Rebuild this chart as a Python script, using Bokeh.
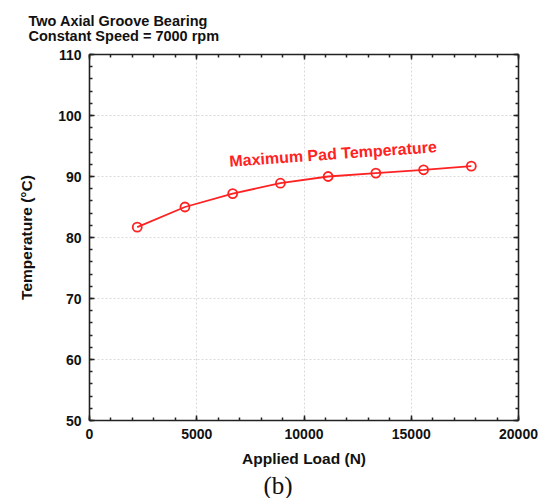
from bokeh.plotting import figure
from bokeh.models import Label, LinearAxis, Range1d, FixedTicker, Title
from bokeh.embed import file_html
from bokeh.resources import INLINE

title_lines = ["Two Axial Groove Bearing", "Constant Speed = 7000 rpm"]
x_label = "Applied Load (N)"
y_label = "Temperature (°C)"
series_name = "Maximum Pad Temperature"
caption = "(b)"

load = [2225, 4450, 6675, 8900, 11125, 13350, 15575, 17800]
temperature = [81.7, 85.0, 87.2, 88.9, 90.0, 90.55, 91.1, 91.7]

x_ticks = [0, 5000, 10000, 15000, 20000]
y_ticks = [50, 60, 70, 80, 90, 100, 110]

FONT = "Liberation Sans"
RED = "#ff2222"
AX = "#222222"

p = figure(width=548, height=498, output_backend="svg", toolbar_location=None,
           x_range=Range1d(0, 20000), y_range=Range1d(50, 110),
           min_border_left=89, min_border_right=30, min_border_top=53, min_border_bottom=77)
p.outline_line_color = None
p.background_fill_color = "white"
p.border_fill_color = "white"

def style_axis(ax, show_labels=True):
    ax.axis_line_color = AX
    ax.axis_line_width = 1.6
    ax.major_tick_line_color = AX
    ax.minor_tick_line_color = AX
    ax.major_tick_line_width = 1.5
    ax.minor_tick_line_width = 1.5
    ax.major_tick_in = 5
    ax.major_tick_out = 0
    ax.minor_tick_in = 3
    ax.minor_tick_out = 0
    ax.major_label_text_font = FONT
    ax.major_label_text_font_style = "bold"
    ax.major_label_text_font_size = "14px"
    ax.major_label_text_color = "#111111"
    ax.axis_label_text_font = FONT
    ax.axis_label_text_font_style = "bold"
    ax.axis_label_text_font_size = "15.5px"
    ax.axis_label_text_color = "#111111"
    if not show_labels:
        ax.major_label_standoff = 0

xt = FixedTicker(ticks=x_ticks, minor_ticks=list(range(0, 20001, 1000)))
yt = FixedTicker(ticks=y_ticks, minor_ticks=list(range(50, 111, 2)))

p.xaxis.ticker = xt
p.yaxis.ticker = yt
style_axis(p.xaxis[0])
style_axis(p.yaxis[0])
p.xaxis.axis_label = x_label
p.yaxis.axis_label = y_label
p.xaxis.major_label_standoff = 8
p.yaxis.major_label_standoff = 8
p.xaxis.axis_label_standoff = 8
p.yaxis.axis_label_standoff = 20

top_ax = LinearAxis(ticker=xt)
right_ax = LinearAxis(ticker=yt)
style_axis(top_ax, False)
style_axis(right_ax, False)
top_ax.major_label_overrides = {t: "" for t in x_ticks}
right_ax.major_label_overrides = {t: "" for t in y_ticks}
p.add_layout(top_ax, "above")
p.add_layout(right_ax, "right")

p.xgrid.ticker = xt
p.ygrid.ticker = yt
for g in (p.xgrid[0], p.ygrid[0]):
    g.grid_line_color = "#dadada"
    g.grid_line_dash = "2 2"
    g.grid_line_width = 1

p.line(load, temperature, line_color=RED, line_width=1.8)
p.scatter(load, temperature, size=9, fill_color=None, line_color=RED, line_width=1.8)

p.add_layout(Label(x=11355, y=93.7, text=series_name, text_color=RED,
                   text_font=FONT, text_font_style="bold", text_font_size="16px",
                   text_align="center", text_baseline="middle", angle=0.07))

p.title.text = "\n".join(title_lines)
p.title.align = "left"
p.title.offset = -61
p.title.text_font = FONT
p.title.text_font_style = "bold"
p.title.text_font_size = "14.5px"
p.title.text_color = "#111111"
p.title.text_line_height = 0.95
p.title.standoff = 21

p.add_layout(Title(text=caption, align="left", offset=174, text_font="Liberation Serif",
                   text_font_size="25px", text_font_style="normal", text_line_height=0.9,
                   text_color="#111111", standoff=0), "below")

open("out.html", "w").write(file_html(p, INLINE))
